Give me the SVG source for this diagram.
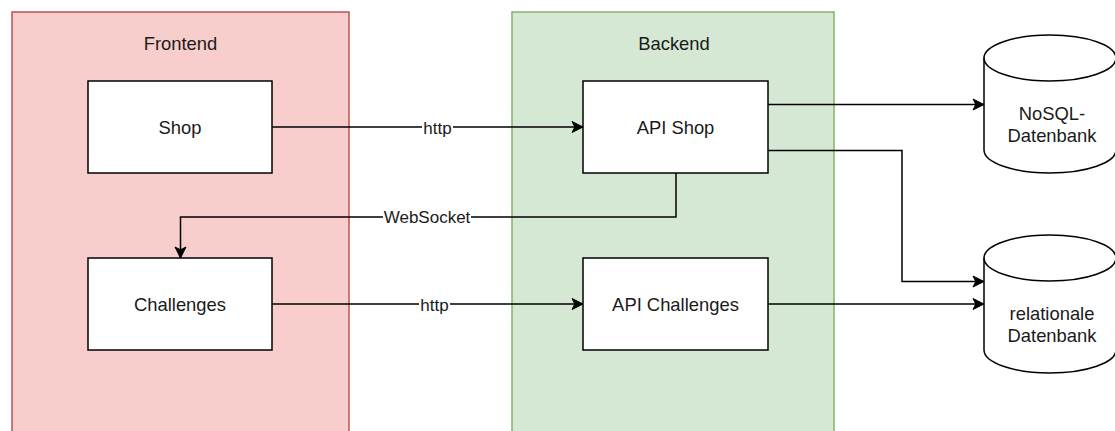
<svg xmlns="http://www.w3.org/2000/svg" width="1115" height="431" viewBox="0 0 1115 431">
  <style>
    .box { fill: #ffffff; stroke: #000000; stroke-width: 1.5; }
    .t { font-family: "Liberation Sans", Arial, sans-serif; font-size: 18.4px; fill: #1a1a1a; text-anchor: middle; }
    .lbl { font-family: "Liberation Sans", Arial, sans-serif; font-size: 17px; fill: #1a1a1a; text-anchor: middle; }
    .edge { fill: none; stroke: #000000; stroke-width: 1.5; marker-end: url(#arrow); }
    .lblbg { fill: #ffffff; }
  </style>
  <defs>
    <marker id="arrow" markerUnits="userSpaceOnUse" markerWidth="14" markerHeight="14" viewBox="0 0 14 14" refX="12" refY="7" orient="auto">
      <path d="M1,1.5 L12,7 L1,12.5 L3.8,7 Z" fill="#000000" stroke="#000000" stroke-width="1"/>
    </marker>
  </defs>
  <rect width="1115" height="431" fill="#ffffff"/>

  <g id="frontend">
    <rect x="12" y="12" width="337" height="430" fill="#f8cecc" stroke="#b85450" stroke-width="1.5"/>
    <text class="t" x="180.5" y="49.5">Frontend</text>
  </g>
  <g id="backend">
    <rect x="512" y="12" width="322" height="430" fill="#d5e8d4" stroke="#82b366" stroke-width="1.5"/>
    <text class="t" x="674" y="49.5">Backend</text>
  </g>

  <g id="shop">
    <rect class="box" x="88" y="81" width="184" height="92"/>
    <text class="t" x="180" y="133.5">Shop</text>
  </g>
  <g id="challenges">
    <rect class="box" x="88" y="258" width="184" height="92"/>
    <text class="t" x="180" y="310.5">Challenges</text>
  </g>
  <g id="api-shop">
    <rect class="box" x="583" y="81" width="185" height="92"/>
    <text class="t" x="675.5" y="133.5">API Shop</text>
  </g>
  <g id="api-challenges">
    <rect class="box" x="583" y="258" width="185" height="92"/>
    <text class="t" x="675.5" y="310.5">API Challenges</text>
  </g>
  <g id="nosql">
    <path class="box" d="M984,58 A66,23 0 0 1 1116,58 L1116,150 A66,23 0 0 1 984,150 Z"/>
    <path d="M984,58 A66,23 0 0 0 1116,58" fill="none" stroke="#000000" stroke-width="1.5"/>
    <text class="t" x="1052" y="120">NoSQL-</text>
    <text class="t" x="1052" y="142">Datenbank</text>
  </g>
  <g id="relational">
    <path class="box" d="M984,258 A66,23 0 0 1 1116,258 L1116,350 A66,23 0 0 1 984,350 Z"/>
    <path d="M984,258 A66,23 0 0 0 1116,258" fill="none" stroke="#000000" stroke-width="1.5"/>
    <text class="t" x="1052" y="320">relationale</text>
    <text class="t" x="1052" y="342">Datenbank</text>
  </g>

  <g id="connectors">
    <path class="edge" d="M272,127 L583,127"/>
    <rect class="lblbg" x="422" y="118" width="31" height="18"/>
    <text class="lbl" x="437.5" y="133.5">http</text>

    <path class="edge" d="M272,304 L583,304"/>
    <rect class="lblbg" x="419" y="295" width="31" height="18"/>
    <text class="lbl" x="434.5" y="310.5">http</text>

    <path class="edge" d="M676,173 L676,217 L180.5,217 L180.5,258"/>
    <rect class="lblbg" x="383" y="208" width="88" height="18"/>
    <text class="lbl" x="427" y="223">WebSocket</text>

    <path class="edge" d="M768,104.5 L984,104.5"/>
    <path class="edge" d="M768,150.5 L902,150.5 L902,281.5 L984,281.5"/>
    <path class="edge" d="M768,304 L984,304"/>
  </g>
</svg>
